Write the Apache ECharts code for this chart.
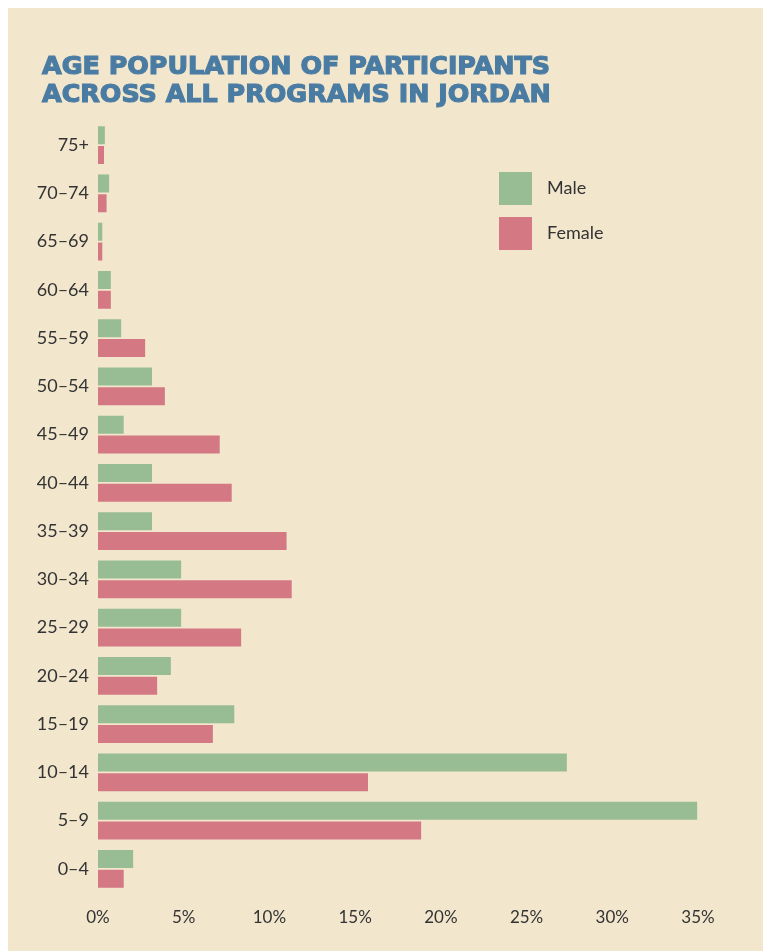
<!DOCTYPE html>
<html>
<head>
<meta charset="utf-8">
<script src="https://cdn.jsdelivr.net/npm/echarts@6/dist/echarts.min.js"></script>
<style>
html,body{margin:0;padding:0;background:#ffffff;}
#chart{width:763px;height:951px;}
</style>
</head>
<body>
<div id="chart"></div>
<script>
var categories = ['75+','70–74','65–69','60–64','55–59','50–54','45–49','40–44','35–39','30–34','25–29','20–24','15–19','10–14','5–9','0–4'];
var maleValues = [0.4,0.65,0.25,0.75,1.35,3.15,1.5,3.15,3.15,4.85,4.85,4.25,7.95,27.35,34.95,2.05];
var femaleValues = [0.35,0.5,0.25,0.75,2.75,3.9,7.1,7.8,11.0,11.3,8.35,3.45,6.7,15.75,18.85,1.5];
var xTicks = [0,5,10,15,20,25,30,35];
var seriesNames = ['Male','Female'];
var titleText = 'AGE POPULATION OF PARTICIPANTS\nACROSS ALL PROGRAMS IN JORDAN';

var chart = echarts.init(document.getElementById('chart'), null, {renderer:'canvas'});
var labelFont = 'Lato, "Noto Sans", sans-serif';
chart.setOption({
  backgroundColor: '#ffffff',
  animation: false,
  graphic: [{
    type: 'rect', z: -10, silent: true,
    shape: {x: 8, y: 8, width: 755, height: 943},
    style: {fill: '#f2e6cd'}
  }],
  title: {
    text: titleText,
    left: 37, top: 48,
    textStyle: {
      color: '#4a7ca3', fontSize: 25.4, fontWeight: 'bold', lineHeight: 28,
      fontFamily: '"DejaVu Sans", sans-serif',
      textBorderColor: '#4a7ca3', textBorderWidth: 1.2
    }
  },
  legend: {
    data: seriesNames,
    orient: 'vertical',
    left: 499, top: 172, padding: 0,
    itemWidth: 33, itemHeight: 33, itemGap: 12,
    icon: 'rect',
    textStyle: {fontSize: 18, color: '#333', fontFamily: labelFont, padding: [2,0,0,10]}
  },
  grid: {left: 98, right: 65, top: 121, bottom: 58, containLabel: false},
  xAxis: {
    type: 'value', min: 0, max: 35, interval: 5,
    axisLine: {show: false}, axisTick: {show: false}, splitLine: {show: false},
    axisLabel: {formatter: function(v){ return xTicks.indexOf(v) >= 0 ? v + '%' : ''; },
      fontSize: 17, color: '#333', margin: 16, fontFamily: labelFont}
  },
  yAxis: {
    type: 'category', data: categories, inverse: true,
    axisLine: {show: false}, axisTick: {show: false}, splitLine: {show: false},
    axisLabel: {fontSize: 18, color: '#333', margin: 9, fontFamily: labelFont}
  },
  series: [
    {name: 'Male', type: 'bar', data: maleValues, barWidth: 18, barGap: '10%',
     itemStyle: {color: '#98bd94'}},
    {name: 'Female', type: 'bar', data: femaleValues, barWidth: 18, barGap: '10%',
     itemStyle: {color: '#d47984'}}
  ]
});
</script>
</body>
</html>
